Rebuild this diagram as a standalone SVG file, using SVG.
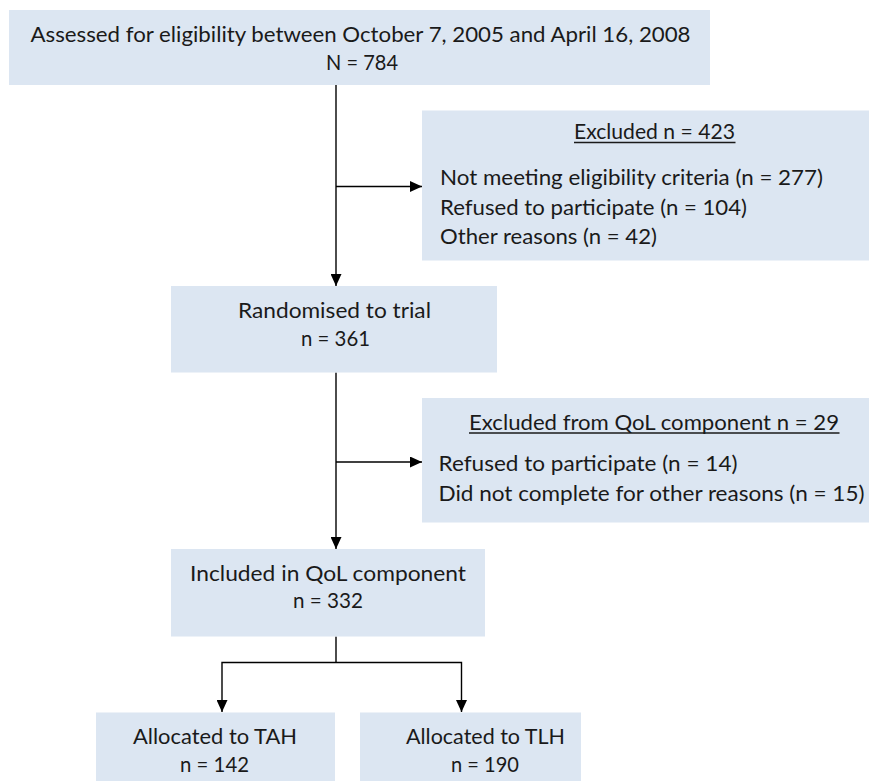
<svg xmlns="http://www.w3.org/2000/svg" width="873" height="781" viewBox="0 0 873 781">
<style>
.box{fill:#dce6f2;stroke:none}
text{font-family:Lato,"Open Sans","Liberation Sans",sans-serif;font-size:21px;fill:#1a1a1a}
.ln{stroke:#000;stroke-width:1.4;fill:none}
.ul{stroke:#1a1a1a;stroke-width:1.3}
</style>
<defs>
<marker id="ah" markerUnits="userSpaceOnUse" markerWidth="12" markerHeight="11" refX="12" refY="5.5" orient="auto">
<path d="M0,0 L12,5.5 L0,11 Z" fill="#000"/>
</marker>
</defs>
<rect width="873" height="781" fill="#fff"/>
<g id="connectors">
<line class="ln" x1="336" y1="85" x2="336" y2="286" marker-end="url(#ah)"/>
<line class="ln" x1="336" y1="186.5" x2="422" y2="186.5" marker-end="url(#ah)"/>
<line class="ln" x1="336" y1="372.5" x2="336" y2="549" marker-end="url(#ah)"/>
<line class="ln" x1="336" y1="462" x2="422" y2="462" marker-end="url(#ah)"/>
<polyline class="ln" points="336,636.5 336,662.5"/>
<polyline class="ln" points="336,662.5 222,662.5 222,712" marker-end="url(#ah)"/>
<polyline class="ln" points="336,662.5 461.5,662.5 461.5,712" marker-end="url(#ah)"/>
</g>
<g id="assessed">
<rect class="box" x="9" y="10" width="701" height="75"/>
<text x="30.5" y="42" textLength="660" lengthAdjust="spacingAndGlyphs">Assessed for eligibility between October 7, 2005  and April 16,  2008</text>
<text x="326" y="70" textLength="72" lengthAdjust="spacingAndGlyphs">N = 784</text>
</g>
<g id="excluded">
<rect class="box" x="422" y="110.5" width="447" height="150"/>
<text x="574" y="139" textLength="161" lengthAdjust="spacingAndGlyphs">Excluded n = 423</text>
<line class="ul" x1="574" y1="142.5" x2="735.5" y2="142.5"/>
<text x="440" y="185" textLength="383" lengthAdjust="spacingAndGlyphs">Not meeting eligibility criteria (n = 277)</text>
<text x="440" y="214.5" textLength="307" lengthAdjust="spacingAndGlyphs">Refused to participate (n = 104)</text>
<text x="440" y="244" textLength="217" lengthAdjust="spacingAndGlyphs">Other reasons (n = 42)</text>
</g>
<g id="randomised">
<rect class="box" x="171" y="286" width="326" height="86.5"/>
<text x="238" y="318" textLength="193" lengthAdjust="spacingAndGlyphs">Randomised to trial</text>
<text x="301" y="346" textLength="69" lengthAdjust="spacingAndGlyphs">n = 361</text>
</g>
<g id="excluded-qol">
<rect class="box" x="422" y="398" width="447" height="124.5"/>
<text x="469" y="430" textLength="370" lengthAdjust="spacingAndGlyphs">Excluded from QoL component n = 29</text>
<line class="ul" x1="469" y1="433" x2="839.5" y2="433"/>
<text x="438.5" y="471" textLength="299" lengthAdjust="spacingAndGlyphs">Refused to participate (n = 14)</text>
<text x="438.5" y="501" textLength="426" lengthAdjust="spacingAndGlyphs">Did not complete for other reasons (n = 15)</text>
</g>
<g id="included">
<rect class="box" x="171" y="549" width="314" height="87.5"/>
<text x="190" y="581" textLength="276" lengthAdjust="spacingAndGlyphs">Included in QoL component</text>
<text x="293" y="608" textLength="70" lengthAdjust="spacingAndGlyphs">n = 332</text>
</g>
<g id="tah">
<rect class="box" x="96" y="712.5" width="239" height="68.5"/>
<text x="133" y="744" textLength="164" lengthAdjust="spacingAndGlyphs">Allocated to TAH</text>
<text x="180" y="772" textLength="69" lengthAdjust="spacingAndGlyphs">n = 142</text>
</g>
<g id="tlh">
<rect class="box" x="360" y="712.5" width="221" height="68.5"/>
<text x="406" y="744" textLength="159" lengthAdjust="spacingAndGlyphs">Allocated to TLH</text>
<text x="451" y="772" textLength="68" lengthAdjust="spacingAndGlyphs">n = 190</text>
</g>
</svg>
